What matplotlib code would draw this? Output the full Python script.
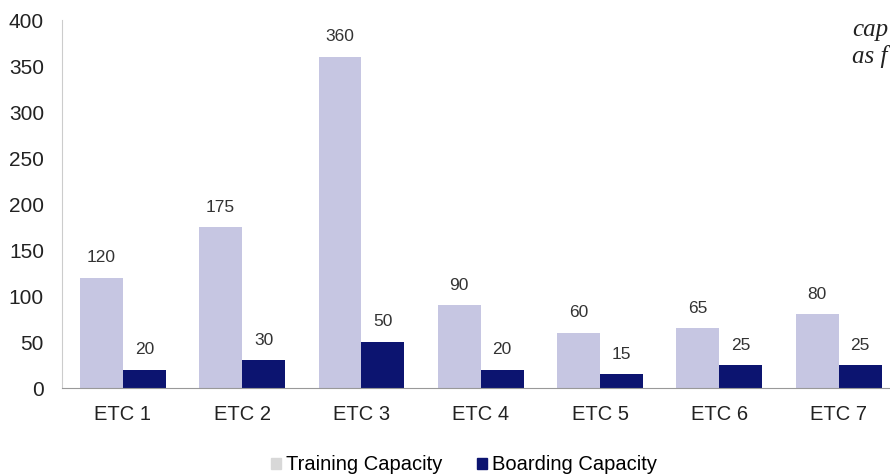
import numpy as np
from matplotlib import pyplot as plt
from matplotlib.patches import Patch

plt.rcParams['font.family'] = ['Liberation Sans', 'DejaVu Sans']

# ETC capacities
centres = ['ETC 1', 'ETC 2', 'ETC 3', 'ETC 4', 'ETC 5', 'ETC 6', 'ETC 7']
training = [120, 175, 360, 90, 60, 65, 80]
boarding = [20, 30, 50, 20, 15, 25, 25]

light = '#c6c6e2'
dark = '#0c1470'

fig = plt.figure(figsize=(8.9, 4.75), dpi=100)
ax = fig.add_axes([62/890, 87/475, 1-62/890, 368/475])

x = np.arange(len(centres))
w = 0.36
b1 = ax.bar(x - w/2, training, w, color=light)
b2 = ax.bar(x + w/2, boarding, w, color=dark)

for bars, vals in ((b1, training), (b2, boarding)):
    for r, v in zip(bars, vals):
        ax.annotate(str(v), (r.get_x() + r.get_width()/2, v),
                    xytext=(0, 9), textcoords='offset points',
                    ha='center', va='bottom', fontsize=12.5, color='#333333')

ax.set_xlim(-0.51, 6.43)
ax.set_ylim(0, 400)
ax.set_yticks(range(0, 401, 50))
ax.set_xticks(x)
ax.set_xticklabels(centres)
ax.tick_params(axis='y', length=0, labelsize=15, colors='#222222', pad=13)
ax.tick_params(axis='x', length=0, labelsize=14.5, colors='#222222', pad=12)
for s in ('top', 'right'):
    ax.spines[s].set_visible(False)
ax.spines['left'].set_color('#cccccc')
ax.spines['bottom'].set_color('#999999')

handles = [Patch(color='#d8d8d8'), Patch(color=dark)]
fig.legend(handles, ['Training Capacity', 'Boarding Capacity'],
           loc='center', bbox_to_anchor=(464/890, 1-465/475), ncol=2,
           frameon=False, fontsize=14.5, handlelength=0.5, handleheight=0.5,
           handletextpad=0.25, columnspacing=1.7)

# page text running off the right edge
fig.text(852/890, 1-30/475, 'cap', family='Liberation Serif', style='italic',
         fontsize=18, color='#222222', va='center')
fig.text(852/890, 1-57/475, 'as f', family='Liberation Serif', style='italic',
         fontsize=18, color='#222222', va='center')

fig.savefig('out.png', dpi=100)
